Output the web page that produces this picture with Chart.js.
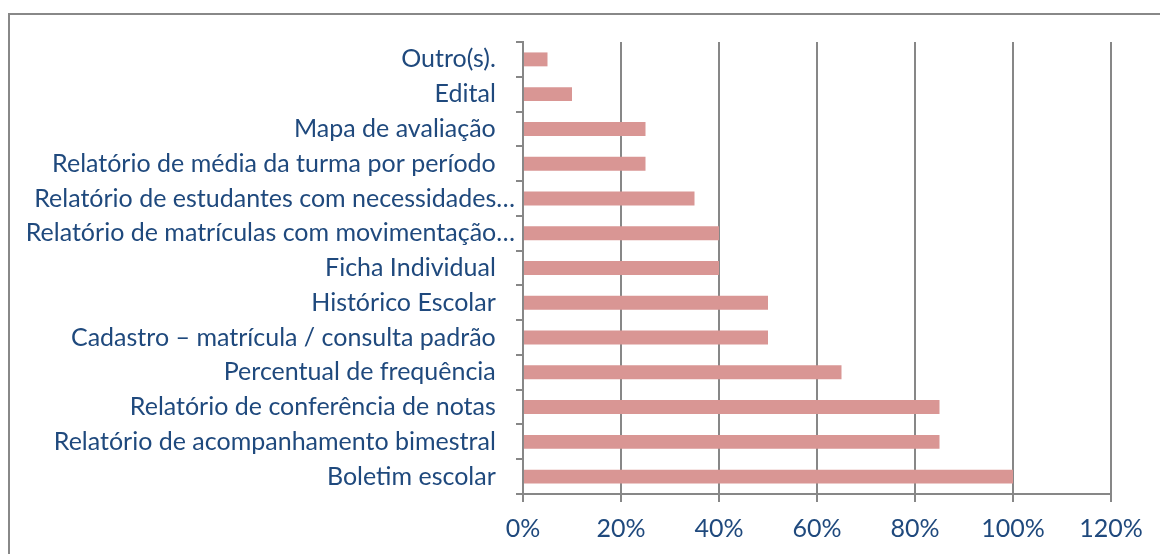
<!DOCTYPE html>
<html>
<head>
<meta charset="utf-8">
<script src="https://cdn.jsdelivr.net/npm/chart.js@4"></script>
<style>
  html, body { margin: 0; padding: 0; background: #fff; }
  #frame {
    position: absolute; left: 8px; top: 13px; width: 1160px; height: 560px;
    border-left: 2px solid #888; border-top: 2px solid #888;
  }
  #wrap { position: absolute; left: 0; top: 0; width: 1160px; height: 554px; }
</style>
</head>
<body>
<div id="frame"></div>
<div id="wrap"><canvas id="chart" width="1160" height="554"></canvas></div>
<script>
  // categories, top to bottom as in the picture
  const categories = [
    'Outro(s).   ',
    'Edital   ',
    'Mapa de avaliação   ',
    'Relatório de média da turma por período   ',
    'Relatório de estudantes com necessidades…',
    'Relatório de matrículas com movimentação…',
    'Ficha Individual   ',
    'Histórico Escolar   ',
    'Cadastro – matrícula / consulta padrão   ',
    'Percentual de frequência   ',
    'Relatório de conferência de notas   ',
    'Relatório de acompanhamento bimestral   ',
    'Boletim escolar   '
  ];
  const percentages = [5, 10, 25, 25, 35, 40, 40, 50, 50, 65, 85, 85, 100];
  const xTicks = [0, 20, 40, 60, 80, 100, 120];

  const textColor = '#1F497D';
  const gridColor = '#878787';
  const font = { family: 'Lato', size: 25 };

  new Chart(document.getElementById('chart').getContext('2d'), {
    type: 'bar',
    data: {
      labels: categories,
      datasets: [{
        data: percentages,
        backgroundColor: '#D99694',
        borderWidth: 0,
        barPercentage: 0.4,
        categoryPercentage: 1
      }]
    },
    options: {
      indexAxis: 'y',
      responsive: false,
      animation: false,
      layout: { padding: { top: 42, right: 49, left: 0, bottom: 0 } },
      plugins: { legend: { display: false }, tooltip: { enabled: false } },
      scales: {
        x: {
          min: 0,
          max: 120,
          afterBuildTicks: (scale) => { scale.ticks = xTicks.map(v => ({ value: v })); },
          afterFit: (scale) => { scale.height = 60; },
          ticks: {
            color: textColor,
            font: font,
            padding: 12,
            maxRotation: 0,
            callback: (v) => v + '%'
          },
          grid: { color: gridColor, lineWidth: 2, tickLength: 8, drawTicks: true },
          border: { color: gridColor, width: 2 }
        },
        y: {
          afterFit: (scale) => { scale.width = 523; },
          ticks: { color: textColor, font: font, padding: 1, autoSkip: false },
          grid: { color: gridColor, lineWidth: 2, drawOnChartArea: false, tickLength: 7, offset: true },
          border: { color: gridColor, width: 2 }
        }
      }
    }
  });
</script>
</body>
</html>
